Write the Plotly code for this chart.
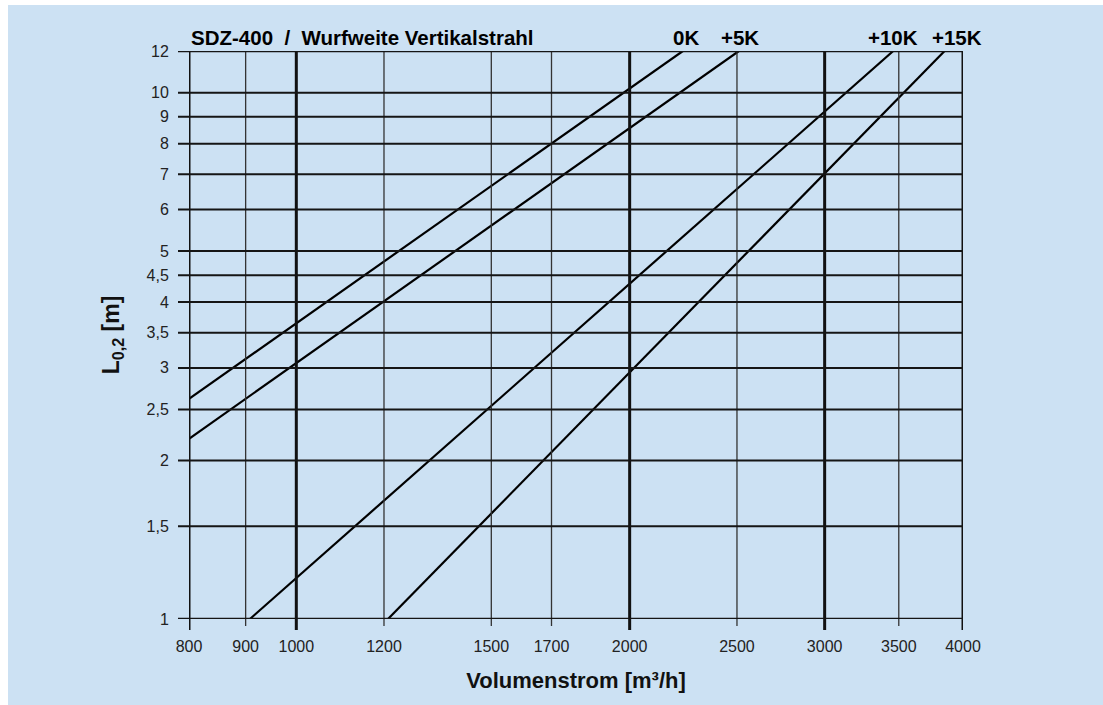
import math
import plotly.graph_objects as go

# Axis ticks
x_major = [800, 1000, 2000, 3000, 4000]
x_minor = [900, 1200, 1500, 1700, 2500, 3500]
y_ticks = [1, 1.5, 2, 2.5, 3, 3.5, 4, 4.5, 5, 6, 7, 8, 9, 10, 12]
y_labels = ["1", "1,5", "2", "2,5", "3", "3,5", "4", "4,5", "5", "6", "7", "8", "9", "10", "12"]

# Throw distance curves (straight on log-log), endpoints per temperature difference
names = ["0K", "+5K", "+10K", "+15K"]
curve_x = [[800, 2234], [800, 2510], [908, 3460], [1210, 3850]]
curve_y = [[2.62, 12], [2.2, 12], [1, 12], [1, 12]]
label_shift = [3, 1, 0, 12]

BG = "#cce1f3"
FONT = "Liberation Sans, Arial, sans-serif"

fig = go.Figure()
for n, xs, ys in zip(names, curve_x, curve_y):
    fig.add_trace(go.Scatter(x=xs, y=ys, mode="lines", name=n,
                             line=dict(color="#000000", width=2.2),
                             showlegend=False, hoverinfo="skip"))

shapes = []
# page background (white rim on top and left)
shapes.append(dict(type="rect", xref="paper", yref="paper",
                   x0=(8 - 189) / 774, x1=(1103 - 189) / 774 + 0.01,
                   y0=-(705 - 619) / 568 - 0.01, y1=(619 - 5) / 568,
                   fillcolor=BG, line=dict(width=0), layer="below"))
# vertical grid lines with tick marks below the axis
for v in x_major:
    shapes.append(dict(type="line", xref="x", yref="paper", x0=v, x1=v,
                       y0=-11 / 568, y1=1, line=dict(color="#111111", width=3)))
for v in x_minor:
    shapes.append(dict(type="line", xref="x", yref="paper", x0=v, x1=v,
                       y0=-7 / 568, y1=1, line=dict(color="#333333", width=1.3)))
# horizontal grid lines with tick marks to the left
for v in y_ticks:
    w = 2.6 if v in (1, 12) else 2
    shapes.append(dict(type="line", xref="paper", yref="y", x0=-11 / 774, x1=1,
                       y0=v, y1=v, line=dict(color="#151515", width=w)))

annotations = [
    dict(text="<b>SDZ-400  /  Wurfweite Vertikalstrahl</b>", xref="paper", yref="paper",
         x=0.0, y=1.0, xanchor="left", yanchor="bottom", yshift=0, showarrow=False,
         font=dict(family=FONT, size=20.5, color="#000000")),
]
for n, xs, s in zip(names, curve_x, label_shift):
    annotations.append(dict(text="<b>" + n + "</b>", xref="x", yref="paper",
                            x=math.log10(xs[1]), y=1.0, xanchor="center", yanchor="bottom",
                            xshift=s, yshift=0, showarrow=False,
                            font=dict(family=FONT, size=20.5, color="#000000")))

fig.update_layout(
    width=1103, height=705,
    margin=dict(l=189, r=140, t=51, b=86),
    paper_bgcolor="#ffffff",
    plot_bgcolor="rgba(0,0,0,0)",
    font=dict(family=FONT, size=16, color="#222222"),
    shapes=shapes,
    annotations=annotations,
    xaxis=dict(type="log", range=[2.90309, 3.60206],
               tickvals=sorted(x_major + x_minor),
               ticktext=[str(v) for v in sorted(x_major + x_minor)],
               showgrid=False, zeroline=False, showline=False,
               ticks="outside", ticklen=13, tickcolor="rgba(0,0,0,0)",
               tickfont=dict(size=16, color="#222222"),
               title=dict(text="<b>Volumenstrom [m³/h]</b>", standoff=18,
                          font=dict(size=22, color="#111111"))),
    yaxis=dict(type="log", range=[0, 1.07918],
               tickvals=y_ticks, ticktext=y_labels,
               showgrid=False, zeroline=False, showline=False,
               ticks="outside", ticklen=16, tickcolor="rgba(0,0,0,0)",
               tickfont=dict(size=16, color="#222222"),
               title=dict(text="<b>L<sub>0,2</sub> [m]</b>", standoff=20,
                          font=dict(size=23, color="#111111"))),
)

fig.write_html("out.html")
